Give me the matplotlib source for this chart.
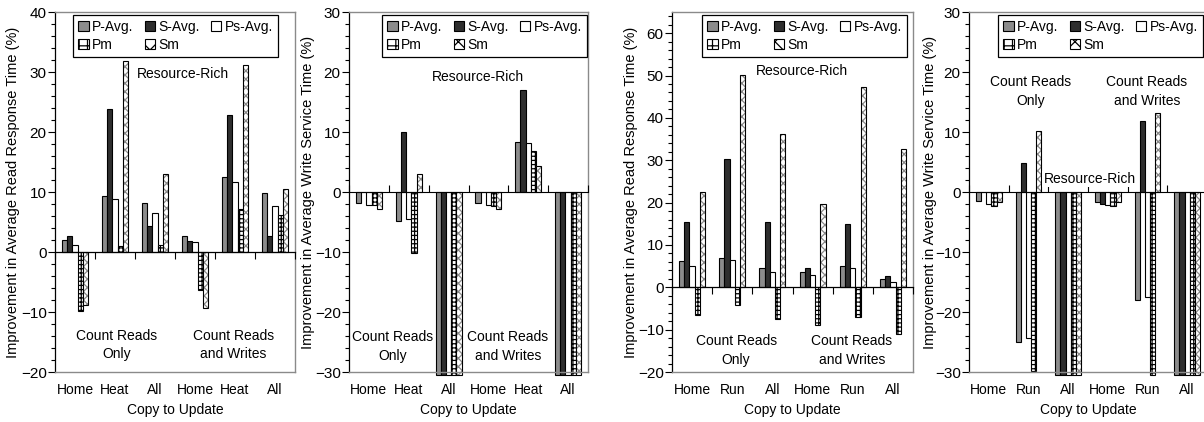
import numpy as np
import matplotlib.pyplot as plt
from matplotlib.patches import Patch
from matplotlib.ticker import MultipleLocator, NullFormatter

FONT = ['Liberation Sans', 'DejaVu Sans']
plt.rcParams['font.family'] = FONT
plt.rcParams['hatch.linewidth'] = 0.9

series = ['P-Avg.', 'S-Avg.', 'Ps-Avg.', 'Pm', 'Sm']

# categories per panel
cats_heat = ['Home', 'Heat', 'All', 'Home', 'Heat', 'All']
cats_run = ['Home', 'Run', 'All', 'Home', 'Run', 'All']

# each row: one series (P-Avg., S-Avg., Ps-Avg., Pm, Sm) over the six categories
read_heat = [
    [2.0, 9.4, 8.2, 2.7, 12.5, 9.9],
    [2.6, 23.8, 4.3, 1.8, 22.9, 2.7],
    [1.1, 8.9, 6.5, 1.6, 11.7, 7.7],
    [-9.8, 1.0, 1.2, -6.4, 7.1, 6.1],
    [-8.8, 31.9, 13.0, -9.3, 31.1, 10.5],
]
write_heat = [
    [-1.8, -4.9, -30.5, -1.8, 8.3, -30.5],
    [0.0, 10.0, -30.5, 0.0, 17.0, -30.5],
    [-2.2, -4.5, -30.5, -2.2, 8.1, -30.5],
    [-2.2, -10.2, -30.5, -2.3, 6.9, -30.5],
    [-2.8, 3.0, -30.5, -2.8, 4.4, -30.5],
]
read_run = [
    [6.1, 6.9, 4.6, 3.5, 5.1, 2.0],
    [15.3, 30.4, 15.4, 4.6, 15.0, 2.6],
    [5.1, 6.5, 3.7, 2.9, 4.6, 1.2],
    [-6.5, -4.1, -7.5, -8.8, -7.1, -11.0],
    [22.4, 50.2, 36.1, 19.6, 47.2, 32.7],
]
write_run = [
    [-1.5, -25.0, -30.5, -1.6, -18.0, -30.5],
    [0.0, 4.9, -30.5, -2.0, 11.9, -30.5],
    [-2.0, -24.3, -30.5, -2.1, -17.5, -30.5],
    [-2.3, -29.8, -30.5, -2.3, -30.5, -30.5],
    [-1.6, 10.1, -30.5, -1.7, 13.2, -30.5],
]

ylabels = ['Improvement in Average Read Response Time (%)',
           'Improvement in Average Write Service Time (%)',
           'Improvement in Average Read Response Time (%)',
           'Improvement in Average Write Service Time (%)']

panels = [
    dict(data=read_heat, cats=cats_heat, ylim=(-20, 40), ylabel=ylabels[0], ylx=-0.145,
         rect=(55, 295), leg=0.929, rr=(0.533, 0.828), cro=(0.258, 0.075), craw=(0.742, 0.075)),
    dict(data=write_heat, cats=cats_heat, ylim=(-30, 30), ylabel=ylabels[1], ylx=-0.142,
         rect=(349, 588), leg=0.996, rr=(0.538, 0.819), cro=(0.184, 0.072), craw=(0.665, 0.072)),
    dict(data=read_run, cats=cats_run, ylim=(-20, 65), ylabel=ylabels[2], ylx=-0.14,
         rect=(672, 913), leg=0.975, rr=(0.539, 0.836), cro=(0.266, 0.061), craw=(0.747, 0.061)),
    dict(data=write_run, cats=cats_run, ylim=(-30, 30), ylabel=ylabels[3], ylx=-0.134,
         rect=(969, 1207), leg=0.983, rr=(0.508, 0.536), cro=(0.26, 0.778), craw=(0.748, 0.778)),
]

W, H = 1204, 422
fig = plt.figure(figsize=(W / 100, H / 100), dpi=100)

face = ['#8c8c8c', '#2e2e2e', 'white', 'white', 'white']
hatch = [None, None, None, '++++', 'xxxx']
hatch_col = [None, None, None, 'black', '#8a8a8a']
bw = 0.13

for i, p in enumerate(panels):
    x0, x1 = p['rect']
    ax = fig.add_axes([x0 / W, (H - 372) / H, (x1 - x0) / W, 360 / H])
    ymin, ymax = p['ylim']
    x = np.arange(len(p['cats']))
    for k, vals in enumerate(p['data']):
        pos = x + (k - 2) * bw
        if hatch[k] is None:
            ax.bar(pos, vals, bw, color=face[k], edgecolor='black', linewidth=0.8,
                   clip_on=False, zorder=2)
        else:
            ax.bar(pos, vals, bw, color='white', edgecolor=hatch_col[k], hatch=hatch[k],
                   linewidth=0, clip_on=False, zorder=2)
            ax.bar(pos, vals, bw, fill=False, edgecolor='black', linewidth=0.8,
                   clip_on=False, zorder=2)

    ax.set_xlim(-0.5, len(p['cats']) - 0.5)
    ax.set_ylim(ymin, ymax)
    ax.set_xticks(x)
    ax.set_xticklabels(p['cats'], fontsize=10)
    ax.tick_params(axis='x', length=0, pad=8)
    ax.set_xlabel('Copy to Update', fontsize=10, labelpad=4)

    ax.yaxis.set_major_locator(MultipleLocator(10))
    ax.yaxis.set_minor_locator(MultipleLocator(2))
    ax.tick_params(axis='y', which='major', direction='out', length=5, width=0.8,
                   pad=1, labelsize=11)
    ax.tick_params(axis='y', which='minor', direction='out', length=3, width=0.8)
    ax.set_ylabel(p['ylabel'], fontsize=10.5)
    ax.yaxis.set_label_coords(p['ylx'], 0.5)

    for side in ['top', 'right', 'bottom']:
        ax.spines[side].set_color('#8a8a8a')
        ax.spines[side].set_linewidth(1.0)
    ax.spines['left'].set_linewidth(0.9)

    # category axis crossing at zero, with ticks between groups
    zax = ax.secondary_xaxis((0 - ymin) / (ymax - ymin))
    zax.set_xticks(np.arange(-0.5, len(p['cats']), 1.0))
    zax.xaxis.set_major_formatter(NullFormatter())
    zax.tick_params(direction='out', length=5, width=0.8)
    zax.spines['bottom'].set_color('black')
    zax.spines['bottom'].set_linewidth(0.9)
    zax.set_zorder(3)

    handles = [Patch(facecolor=face[0], edgecolor='black', linewidth=0.8),
               Patch(facecolor='white', edgecolor='black', hatch='++', linewidth=0.8),
               Patch(facecolor=face[1], edgecolor='black', linewidth=0.8),
               Patch(facecolor='white', edgecolor='black', hatch='xx', linewidth=0.8),
               Patch(facecolor='white', edgecolor='black', linewidth=0.8)]
    labels = [series[0], series[3], series[1], series[4], series[2]]
    leg = ax.legend(handles, labels, ncol=3, loc='upper right',
                    bbox_to_anchor=(p['leg'], 0.992), fontsize=10, frameon=True,
                    fancybox=False, edgecolor='black', framealpha=1,
                    handlelength=0.75, handleheight=0.75, handletextpad=0.25,
                    columnspacing=0.8, borderpad=0.35, labelspacing=0.3, borderaxespad=0)
    leg.get_frame().set_linewidth(0.9)
    leg.set_zorder(5)

    rr_box = dict(facecolor='white', edgecolor='none', pad=1) if i == 3 else None
    ax.text(*p['rr'], 'Resource-Rich', transform=ax.transAxes, ha='center', va='center',
            fontsize=10, bbox=rr_box, zorder=4)
    ax.text(*p['cro'], 'Count Reads\nOnly', transform=ax.transAxes, ha='center',
            va='center', fontsize=10, linespacing=1.45)
    ax.text(*p['craw'], 'Count Reads\nand Writes', transform=ax.transAxes, ha='center',
            va='center', fontsize=10, linespacing=1.45)

fig.savefig('out.png', dpi=100)
